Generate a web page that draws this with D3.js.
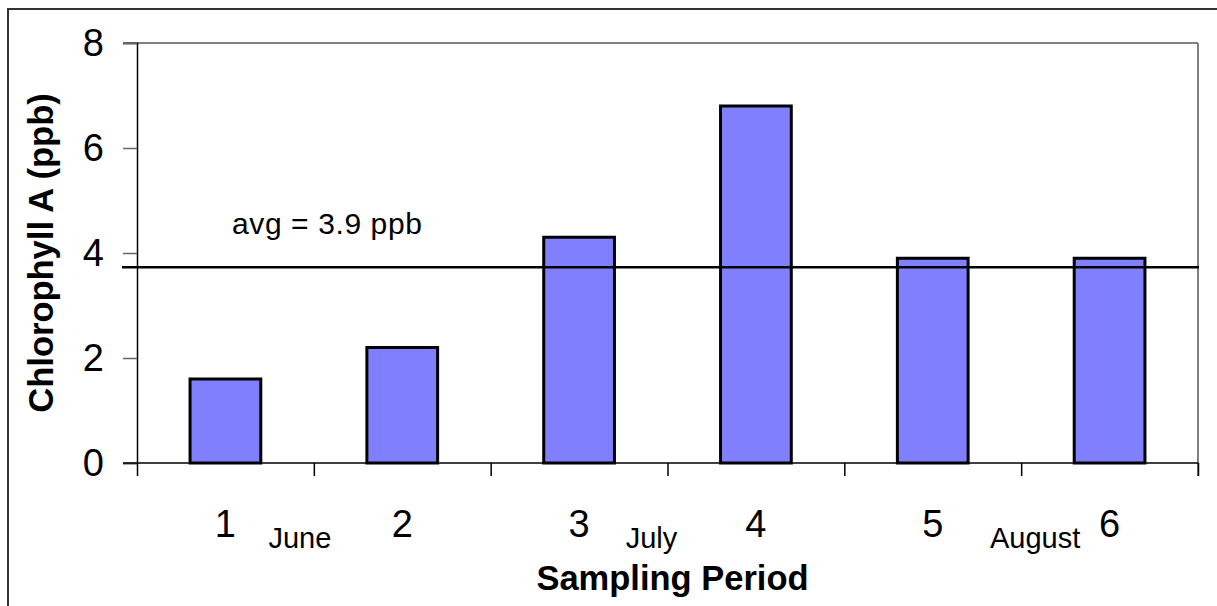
<!DOCTYPE html>
<html lang="en">
<head>
<meta charset="UTF-8"/>
<title>Chlorophyll A by sampling period</title>
<script src="https://d3js.org/d3.v7.min.js"></script>
<style>
  body { margin: 0; background: #fff; }
  text { font-family: "Liberation Sans", Arial, sans-serif; fill: #000; }
</style>
</head>
<body>
<script>
    // data
    var periods = ["1", "2", "3", "4", "5", "6"];
    var chlorophyll = [1.6, 2.2, 4.3, 6.8, 3.9, 3.9];
    var yTicks = [0, 2, 4, 6, 8];
    var months = ["June", "July", "August"];
    var avgLineValue = 3.73;      // where the drawn line sits
    var avgLabel = "avg = 3.9 ppb";

    var w = 1217;
    var h = 606;
    var plotLeft = 137, plotRight = 1198, plotTop = 43, plotBottom = 463;

    var svg = d3.select("body")
                .append("svg")
                .attr("width", w)
                .attr("height", h);

    // outer frame (runs off the right and bottom edge)
    svg.append("rect")
        .attr("x", 8).attr("y", 9)
        .attr("width", 1230).attr("height", 620)
        .attr("fill", "none")
        .attr("stroke", "#333")
        .attr("stroke-width", 2);

    var xScale = d3.scaleBand()
        .domain(periods)
        .range([plotLeft, plotRight]);

    var xEdge = d3.scaleLinear()
        .domain([0, periods.length])
        .range([plotLeft, plotRight]);

    var yScale = d3.scaleLinear()
        .domain([0, 8])
        .range([plotBottom, plotTop]);

    // plot area top and right border (grey)
    svg.append("line")
        .attr("x1", plotLeft - 14).attr("x2", plotRight)
        .attr("y1", yScale(8)).attr("y2", yScale(8))
        .attr("stroke", "#808080").attr("stroke-width", 2);
    svg.append("line")
        .attr("x1", plotRight).attr("x2", plotRight)
        .attr("y1", plotTop).attr("y2", plotBottom + 13)
        .attr("stroke", "#808080").attr("stroke-width", 2);

    // bars
    var barW = xScale.bandwidth() * 0.4;
    svg.selectAll("rect.bar")
        .data(chlorophyll)
        .enter()
        .append("rect")
        .attr("class", "bar")
        .attr("x", function(d, i) { return xScale(periods[i]) + (xScale.bandwidth() - barW) / 2; })
        .attr("y", function(d) { return yScale(d); })
        .attr("width", barW)
        .attr("height", function(d) { return yScale(0) - yScale(d); })
        .attr("fill", "#8080ff")
        .attr("stroke", "#000")
        .attr("stroke-width", 3);

    // y axis
    var yAxis = svg.append("g")
        .attr("transform", "translate(" + plotLeft + ",0)")
        .call(d3.axisLeft(yScale).tickValues(yTicks).tickSize(14).tickPadding(19));
    yAxis.select(".domain").attr("stroke", "#000").attr("stroke-width", 1.5);
    yAxis.selectAll(".tick line").attr("stroke", "#666").attr("stroke-width", 1.5);
    yAxis.selectAll(".tick text")
        .attr("font-size", "38px")
        .attr("font-family", "Liberation Sans, Arial, sans-serif")
        .attr("fill", "#000");

    // x axis: ticks at category edges
    var xAxis = svg.append("g")
        .attr("transform", "translate(0," + plotBottom + ")")
        .call(d3.axisBottom(xEdge).ticks(periods.length).tickSize(13).tickFormat(""));
    xAxis.select(".domain").remove();
    xAxis.selectAll(".tick line").attr("stroke", "#000").attr("stroke-width", 1.5);
    svg.append("line")
        .attr("x1", plotLeft - 14).attr("x2", plotRight)
        .attr("y1", plotBottom).attr("y2", plotBottom)
        .attr("stroke", "#000").attr("stroke-width", 1.5);

    // period labels
    svg.selectAll("text.period")
        .data(periods)
        .enter()
        .append("text")
        .attr("class", "period")
        .attr("x", function(d) { return xScale(d) + xScale.bandwidth() / 2; })
        .attr("y", 537)
        .attr("text-anchor", "middle")
        .attr("font-size", "38px")
        .text(function(d) { return d; });

    // month labels, near the boundaries between periods 1|2, 3|4, 5|6
    var monthShift = [-14, -16, 14];
    svg.selectAll("text.month")
        .data(months)
        .enter()
        .append("text")
        .attr("class", "month")
        .attr("x", function(d, i) { return xEdge(i * 2 + 1) + monthShift[i]; })
        .attr("y", 548)
        .attr("text-anchor", "middle")
        .attr("font-size", "29px")
        .text(function(d) { return d; });

    // average line + label
    svg.append("line")
        .attr("x1", plotLeft - 15).attr("x2", plotRight + 1)
        .attr("y1", yScale(avgLineValue)).attr("y2", yScale(avgLineValue))
        .attr("stroke", "#000").attr("stroke-width", 2.5);
    svg.append("text")
        .attr("x", 232)
        .attr("y", 234)
        .attr("font-size", "30px")
        .attr("letter-spacing", "0.6px")
        .text(avgLabel);

    // axis titles
    svg.append("text")
        .attr("x", (plotLeft + plotRight) / 2 + 5)
        .attr("y", 590)
        .attr("text-anchor", "middle")
        .attr("font-size", "34.5px")
        .attr("font-weight", "bold")
        .text("Sampling Period");

    svg.append("text")
        .attr("transform", "translate(53," + ((plotTop + plotBottom) / 2) + ") rotate(-90)")
        .attr("text-anchor", "middle")
        .attr("font-size", "34.5px")
        .attr("font-weight", "bold")
        .text("Chlorophyll A (ppb)");
</script>
</body>
</html>
